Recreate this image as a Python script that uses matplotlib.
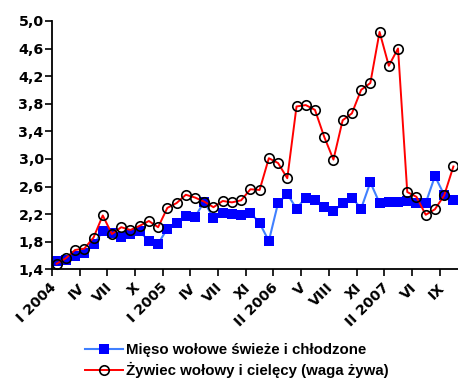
import matplotlib
matplotlib.use("Agg")
import matplotlib.pyplot as plt
from matplotlib.ticker import FixedLocator, FuncFormatter
from matplotlib.transforms import ScaledTranslation

plt.rcParams['font.family'] = ['Liberation Sans', 'DejaVu Sans']
plt.rcParams['font.weight'] = 'bold'

# Data (44 monthly observations)
meat = [1.52, 1.53, 1.60, 1.64, 1.76, 1.95, 1.93, 1.87, 1.91, 1.95,
        1.81, 1.77, 1.99, 2.07, 2.17, 2.16, 2.38, 2.14, 2.21, 2.20,
        2.19, 2.22, 2.07, 1.81, 2.36, 2.49, 2.28, 2.44, 2.41, 2.30,
        2.24, 2.36, 2.44, 2.28, 2.66, 2.36, 2.38, 2.38, 2.39, 2.36,
        2.36, 2.75, 2.48, 2.40]
cattle = [1.48, 1.56, 1.68, 1.70, 1.86, 2.18, 1.91, 2.01, 1.97, 2.03,
          2.10, 2.01, 2.29, 2.36, 2.48, 2.44, 2.38, 2.30, 2.39, 2.37,
          2.40, 2.56, 2.55, 3.01, 2.94, 2.72, 3.76, 3.78, 3.71, 3.32,
          2.99, 3.56, 3.66, 4.00, 4.10, 4.84, 4.35, 4.60, 2.52, 2.45,
          2.19, 2.27, 2.47, 2.89]
tick_labels = ['I 2004', 'IV', 'VII', 'X', 'I 2005', 'IV', 'VII', 'XI',
               'II 2006', 'V', 'VIII', 'XI', 'II 2007', 'VI', 'IX']
series_names = ['Mięso wołowe świeże i chłodzone',
                'Żywiec wołowy i cielęcy (waga żywa)']
y_ticks = [1.4, 1.8, 2.2, 2.6, 3.0, 3.4, 3.8, 4.2, 4.6, 5.0]

W, H = 458, 382
fig = plt.figure(figsize=(W / 100, H / 100), dpi=100)
ax = fig.add_axes([52 / W, 1 - 269.3 / H, (458 - 52) / W, (269.3 - 20.9) / H])

x = list(range(len(meat)))
ax.plot(x, meat, color='#4080ff', lw=1.5, marker='s', markersize=7.5,
        markerfacecolor='#0000ff', markeredgecolor='#0000ff',
        markeredgewidth=0, label=series_names[0], zorder=2, clip_on=False)
ax.plot(x, cattle, color='#ff0000', lw=1.4, marker='o', markersize=6.8,
        markerfacecolor='none', markeredgecolor='black',
        markeredgewidth=1.2, label=series_names[1], zorder=3, clip_on=False)

ax.set_xlim(-0.5, len(meat) - 0.5)
ax.set_ylim(1.4, 5.0)

for s in ['top', 'right']:
    ax.spines[s].set_visible(False)
for s in ['left', 'bottom']:
    ax.spines[s].set_linewidth(1.3)
    ax.spines[s].set_color('black')

tick_font = {'family': ['DejaVu Sans'], 'weight': 'bold', 'size': 10.3}

ax.yaxis.set_major_locator(FixedLocator(y_ticks))
ax.yaxis.set_major_formatter(FuncFormatter(lambda v, p: f"{v:.1f}".replace('.', ',')))
ax.tick_params(axis='y', which='major', direction='out', length=5, width=1.2, pad=1)
for lbl in ax.get_yticklabels():
    lbl.set_fontproperties(tick_font)

# x: tick marks at category boundaries, labels at categories
ax.set_xticks([-0.5 + 3 * k for k in range(len(tick_labels))])
ax.set_xticklabels([''] * len(tick_labels))
ax.tick_params(axis='x', which='major', direction='out', length=5, width=1.2)
ax.set_xticks([3 * k for k in range(len(tick_labels))], minor=True)
ax.set_xticklabels(tick_labels, minor=True, rotation=45, ha='right', va='top',
                   rotation_mode='anchor', fontdict=tick_font)
ax.tick_params(axis='x', which='minor', length=0, pad=8)
off = ScaledTranslation(-7 / 100, 0, fig.dpi_scale_trans)
for lbl in ax.get_xticklabels(minor=True):
    lbl.set_transform(lbl.get_transform() + off)

fig.legend(loc='upper left', bbox_to_anchor=(85 / W, 1 - 343 / H),
           frameon=False, handlelength=2.5, handletextpad=0.22,
           labelspacing=0.32, borderpad=0, borderaxespad=0,
           prop={'family': ['Liberation Sans'], 'weight': 'bold', 'size': 10.8})

fig.savefig('out.png', dpi=100)
